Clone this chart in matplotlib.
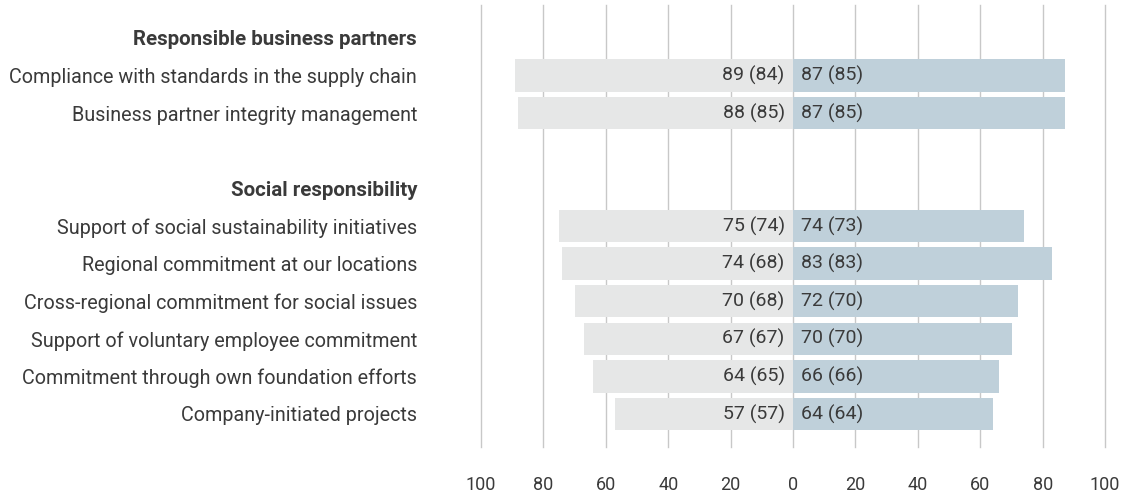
import numpy as np
import matplotlib.pyplot as plt

plt.rcParams['font.family'] = ['Roboto', 'DejaVu Sans']

# --- Dados ---
rows = ["Responsible business partners",
        "Compliance with standards in the supply chain",
        "Business partner integrity management",
        "",
        "Social responsibility",
        "Support of social sustainability initiatives",
        "Regional commitment at our locations",
        "Cross-regional commitment for social issues",
        "Support of voluntary employee commitment",
        "Commitment through own foundation efforts",
        "Company-initiated projects"]
headers = ["Responsible business partners", "Social responsibility"]

bar_rows = [1, 2, 5, 6, 7, 8, 9, 10]
left_vals = [89, 88, 75, 74, 70, 67, 64, 57]
left_prev = [84, 85, 74, 68, 68, 67, 65, 57]
right_vals = [87, 87, 74, 83, 72, 70, 66, 64]
right_prev = [85, 85, 73, 83, 70, 70, 66, 64]

ticks = np.arange(-100, 101, 20)

# --- Gráfico ---
fig = plt.figure(figsize=(11.37, 4.96), dpi=100)
ax = fig.add_axes([0.423, 0.099, 0.549, 0.891])

text_col = '#3a3a3a'
ax.barh(bar_rows, [-v for v in left_vals], height=0.86, color='#e6e7e7', zorder=2)
ax.barh(bar_rows, right_vals, height=0.86, color='#bfd0da', zorder=2)

for r, lv, lp, rv, rp in zip(bar_rows, left_vals, left_prev, right_vals, right_prev):
    ax.text(-2.7, r, f"{lv} ({lp})", ha='right', va='center', fontsize=14,
            color=text_col, zorder=3)
    ax.text(2.4, r, f"{rv} ({rp})", ha='left', va='center', fontsize=14,
            color=text_col, zorder=3)

ax.set_xlim(-100, 100)
ax.set_ylim(10.875, -0.875)
ax.set_xticks(ticks)
ax.set_xticklabels([str(abs(t)) for t in ticks], fontsize=13, color=text_col)
ax.set_yticks(range(len(rows)))
ax.set_yticklabels(rows, fontsize=14.2, color=text_col)
for lbl in ax.get_yticklabels():
    if lbl.get_text() in headers:
        lbl.set_fontweight('bold')
        lbl.set_fontsize(14.8)
ax.tick_params(axis='y', length=0, pad=46)
ax.tick_params(axis='x', length=0, pad=21)

ax.grid(axis='x', color='#c8c8c8', linewidth=1, zorder=0)
for gl in ax.get_xgridlines():
    gl.set_clip_on(False)
ax.set_axisbelow(True)
for s in ax.spines.values():
    s.set_visible(False)

fig.savefig('out.png', dpi=100)
